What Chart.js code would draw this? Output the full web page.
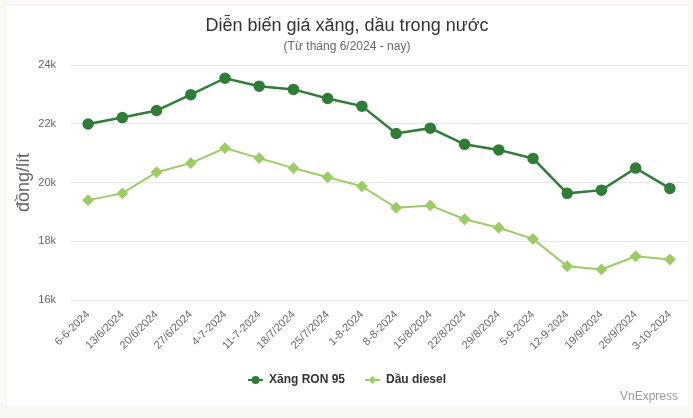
<!DOCTYPE html>
<html>
<head>
<meta charset="utf-8">
<script src="https://cdn.jsdelivr.net/npm/chart.js@4.4.1/dist/chart.umd.min.js"></script>
<style>
  html, body { margin: 0; padding: 0; background: #f9f8f4; overflow: hidden; }
  #card { position: absolute; left: 7px; top: 6px; width: 681px; height: 400px; background: #fff; }
  #chartPrice { position: absolute; left: 0; top: 0; }
</style>
</head>
<body>
<div id="card"><canvas id="chartPrice" width="688" height="400"></canvas></div>
<script>
// du lieu gia xang dau
var weeks = ['6-6-2024', '13/6/2024', '20/6/2024', '27/6/2024', '4-7-2024', '11-7-2024',
  '18/7/2024', '25/7/2024', '1-8-2024', '8-8-2024', '15/8/2024', '22/8/2024',
  '29/8/2024', '5-9-2024', '12-9-2024', '19/9/2024', '26/9/2024', '3-10-2024'];
var ron95 = [21990, 22210, 22450, 22990, 23550, 23280, 23170, 22860, 22600,
  21670, 21850, 21300, 21110, 20820, 19630, 19740, 20490, 19800];
var diesel = [19400, 19630, 20350, 20660, 21170, 20830, 20490, 20180, 19870,
  19140, 19220, 18750, 18460, 18080, 17150, 17040, 17490, 17380];
var yTicks = [16000, 18000, 20000, 22000, 24000];

var FONT = '"Liberation Sans", Arial, sans-serif';
var DARK = '#2f7d37';
var LIGHT = '#9ccc65';

// legend symbol: short line with marker in the middle
function legendIcon(color, style){
  var c = document.createElement('canvas');
  c.width = 15; c.height = 10;
  var ctx = c.getContext('2d');
  ctx.strokeStyle = color;
  ctx.fillStyle = color;
  ctx.lineWidth = 2;
  ctx.beginPath();
  ctx.moveTo(0, 5); ctx.lineTo(15, 5);
  ctx.stroke();
  ctx.beginPath();
  if (style == 'circle') {
    ctx.arc(7.5, 5, 4, 0, Math.PI * 2);
  } else {
    ctx.moveTo(7.5, 1); ctx.lineTo(11.5, 5); ctx.lineTo(7.5, 9); ctx.lineTo(3.5, 5); ctx.closePath();
  }
  ctx.fill();
  return c;
}

// credits text bottom right
var creditsPlugin = {
  id: 'credits',
  afterDraw: function(chart){
    var ctx = chart.ctx;
    ctx.save();
    ctx.font = '12px ' + FONT;
    ctx.fillStyle = '#999';
    ctx.textAlign = 'right';
    ctx.textBaseline = 'middle';
    ctx.fillText('VnExpress', 671, 391);
    ctx.restore();
  }
};

var icons = [legendIcon(DARK, 'circle'), legendIcon(LIGHT, 'diamond')];

new Chart(document.getElementById('chartPrice'), {
  type: 'line',
  data: {
    labels: weeks,
    datasets: [{
      label: 'Xăng RON 95',
      data: ron95,
      borderColor: DARK,
      backgroundColor: DARK,
      borderWidth: 2.5,
      pointStyle: 'circle',
      pointRadius: 4.5,
      pointHoverRadius: 5,
      tension: 0
    }, {
      label: 'Dầu diesel',
      data: diesel,
      borderColor: LIGHT,
      backgroundColor: LIGHT,
      borderWidth: 2,
      pointStyle: 'rectRot',
      pointRadius: 4.5,
      pointHoverRadius: 5,
      tension: 0
    }]
  },
  options: {
    responsive: false,
    animation: false,
    layout: { padding: { top: 4, left: 0, right: 8, bottom: 10 } },
    plugins: {
      title: {
        display: true,
        text: 'Diễn biến giá xăng, dầu trong nước',
        color: '#333',
        font: { family: FONT, size: 18, weight: 'normal' },
        padding: { top: 5, bottom: 0 }
      },
      subtitle: {
        display: true,
        text: '(Từ tháng 6/2024 - nay)',
        color: '#666',
        font: { family: FONT, size: 12 },
        padding: { top: 3, bottom: 11 }
      },
      legend: {
        position: 'bottom',
        labels: {
          color: '#333',
          font: { family: FONT, size: 12, weight: 'bold' },
          usePointStyle: true,
          pointStyleWidth: 15,
          boxHeight: 10,
          padding: 20,
          generateLabels: function(chart){
            return chart.data.datasets.map(function(ds, i){
              return {
                text: ds.label,
                fillStyle: ds.borderColor,
                strokeStyle: ds.borderColor,
                fontColor: '#333',
                pointStyle: icons[i],
                lineWidth: 0,
                hidden: false,
                datasetIndex: i
              };
            });
          }
        }
      },
      tooltip: { enabled: false }
    },
    scales: {
      x: {
        offset: true,
        grid: { display: false, drawTicks: false },
        border: { display: false },
        ticks: {
          color: '#666',
          font: { family: FONT, size: 11 },
          minRotation: 45,
          maxRotation: 45,
          autoSkip: false,
          padding: 8
        },
        afterFit: function(scale){
          scale.height = 54;
          scale.paddingLeft = 0;
          scale.paddingRight = 0;
        }
      },
      y: {
        min: 16000,
        max: 24000,
        afterBuildTicks: function(scale){
          scale.ticks = yTicks.map(function(v){ return { value: v }; });
        },
        grid: { color: '#e6e6e6', drawTicks: false },
        border: { display: false },
        ticks: {
          color: '#666',
          font: { family: FONT, size: 11 },
          padding: 15,
          callback: function(v){ return (v / 1000) + 'k'; }
        },
        title: {
          display: true,
          text: 'đồng/lít',
          color: '#666',
          font: { family: FONT, size: 18 },
          padding: { top: 6, bottom: 0 }
        },
        afterFit: function(scale){ scale.width = 64; }
      }
    }
  },
  plugins: [creditsPlugin]
});
</script>
</body>
</html>
